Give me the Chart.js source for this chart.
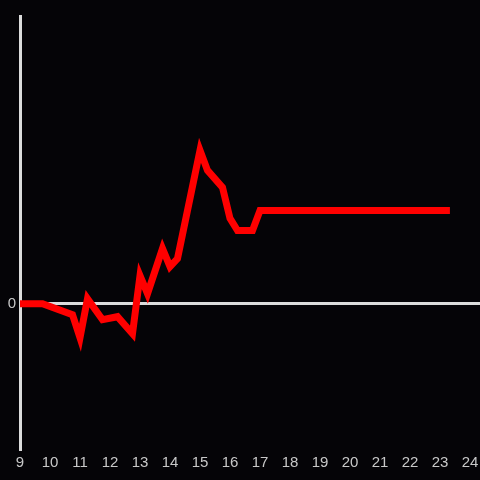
<!DOCTYPE html>
<html>
<head>
<meta charset="utf-8">
<script src="https://cdn.jsdelivr.net/npm/chart.js@4"></script>
<style>
  html, body { margin: 0; padding: 0; background: #050407; }
  #wrap { width: 480px; height: 480px; }
</style>
</head>
<body>
<div id="wrap"><canvas id="chart"></canvas></div>
<script>
  // Data (hour of day -> value)
  const hours = [9, 9.75, 10.75, 11, 11.25, 11.75, 12.25, 12.75, 13, 13.25, 13.75, 14, 14.25, 15, 15.25, 15.75, 16, 16.25, 16.75, 17, 23.33];
  const values = [0, 0, -1.1, -3.4, 0.5, -1.6, -1.3, -3.0, 2.8, 1.0, 5.5, 3.7, 4.5, 15.3, 13.3, 11.6, 8.5, 7.3, 7.3, 9.3, 9.3];
  const xTicks = [9, 10, 11, 12, 13, 14, 15, 16, 17, 18, 19, 20, 21, 22, 23, 24];
  const yTicks = [0];

  const axisColor = '#dcdcdc';
  const labelColor = '#c8c8c8';

  new Chart(document.getElementById('chart'), {
    type: 'line',
    data: {
      datasets: [{
        data: hours.map((h, i) => ({ x: h, y: values[i] })),
        borderColor: '#ff0000',
        borderWidth: 7,
        pointRadius: 0,
        tension: 0,
        fill: false
      }]
    },
    options: {
      responsive: true,
      maintainAspectRatio: false,
      animation: false,
      layout: { padding: { top: 16, right: 0, left: 0, bottom: 0 } },
      plugins: { legend: { display: false }, tooltip: { enabled: false } },
      scales: {
        x: {
          type: 'linear',
          min: 9,
          max: 24.333,
          afterBuildTicks: s => { s.ticks = xTicks.map(v => ({ value: v })); },
          afterFit: s => { s.height = 31; s.paddingRight = 0; },
          grid: { display: false, drawTicks: false },
          border: { display: false },
          ticks: {
            color: labelColor,
            padding: 5,
            maxRotation: 0,
            autoSkip: false,
            font: { family: 'Liberation Sans', size: 15 }
          }
        },
        y: {
          min: -14.5,
          max: 28.7,
          afterBuildTicks: s => { s.ticks = yTicks.map(v => ({ value: v })); },
          afterFit: s => { s.width = 20; },
          grid: {
            drawTicks: false,
            color: ctx => ctx.tick && ctx.tick.value === 0 ? axisColor : 'transparent',
            lineWidth: 3
          },
          border: { display: true, color: axisColor, width: 3 },
          ticks: {
            color: labelColor,
            padding: 4,
            font: { family: 'Liberation Sans', size: 15 }
          }
        }
      }
    }
  });
</script>
</body>
</html>
